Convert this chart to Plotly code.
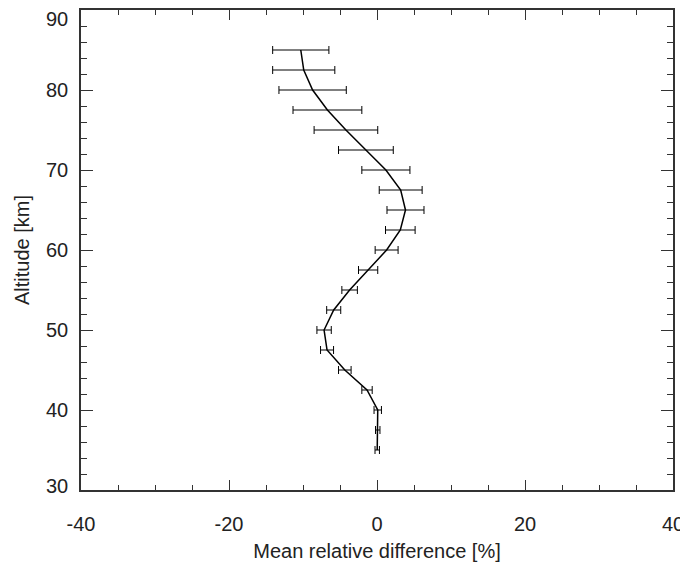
import plotly.graph_objects as go

altitude = [35, 37.5, 40, 42.5, 45, 47.5, 50, 52.5, 55, 57.5, 60, 62.5, 65, 67.5, 70, 72.5, 75, 77.5, 80, 82.5, 85]
mean_diff = [0.03, 0.1, 0.1, -1.35, -4.35, -6.75, -7.15, -5.85, -3.7, -1.2, 1.3, 3.15, 3.85, 3.2, 1.2, -1.5, -4.2, -6.7, -8.7, -9.9, -10.3]
err = [0.3, 0.3, 0.5, 0.7, 0.85, 0.88, 0.97, 0.95, 1.05, 1.3, 1.55, 2.0, 2.5, 2.9, 3.25, 3.7, 4.3, 4.65, 4.55, 4.2, 3.8]

x_ticks = [-40, -20, 0, 20, 40]
x_labels = ["-40", "-20", "0", "20", "40"]
y_ticks = [30, 40, 50, 60, 70, 80, 90]
y_labels = ["30", "40", "50", "60", "70", "80", "90"]

fig = go.Figure()
fig.add_trace(go.Scatter(
    x=mean_diff, y=altitude, mode="lines",
    line=dict(color="black", width=1.5),
    error_x=dict(type="data", array=err, visible=True, color="black", thickness=1, width=4),
    showlegend=False,
))

font = dict(family="Liberation Sans, Arial, sans-serif", size=20, color="#222222")
axis_common = dict(
    showline=True, linecolor="#333333", linewidth=1.5, mirror="allticks",
    ticks="inside", tickcolor="#333333", tickwidth=1,
    showgrid=False, zeroline=False, tickfont=font, automargin=False,
)
fig.update_xaxes(
    range=[-40, 40], tickvals=x_ticks, ticktext=x_labels, ticklen=10,
    minor=dict(dtick=5, ticks="inside", ticklen=5, tickcolor="#333333", showgrid=False),
    title=dict(text="Mean relative difference [%]", font=font, standoff=10),
    ticklabelstandoff=15,
    **axis_common,
)
fig.update_yaxes(
    range=[30, 90], tickvals=y_ticks, ticklen=12, showticklabels=False,
    minor=dict(dtick=2, ticks="inside", ticklen=6, tickcolor="#333333", showgrid=False),
    **axis_common,
)

# y tick labels as text; the top and bottom ones kept inside the page like the reference
for v, lab in zip(y_ticks, y_labels):
    shift = -9 if v == y_ticks[-1] else (4 if v == y_ticks[0] else 0)
    fig.add_annotation(
        x=0, xref="paper", y=v, yref="y", text=lab, showarrow=False,
        xanchor="right", yanchor="middle", xshift=-11, yshift=shift, font=font,
    )
fig.add_annotation(
    x=0, xref="paper", y=0.5, yref="paper", text="Altitude [km]", showarrow=False,
    textangle=-90, xanchor="center", yanchor="middle", xshift=-59, font=font,
)

fig.update_layout(
    width=680, height=559,
    margin=dict(l=73, r=15, t=2, b=77),
    paper_bgcolor="white", plot_bgcolor="white",
    font=font,
)
fig.write_html("out.html")
